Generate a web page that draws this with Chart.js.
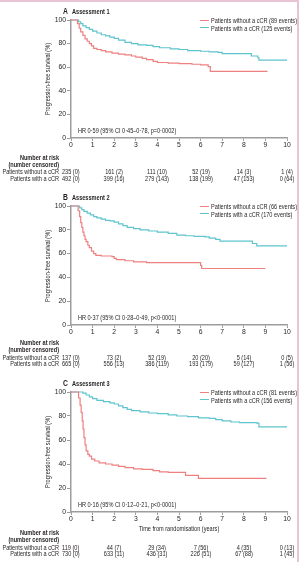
<!DOCTYPE html>
<html>
<head>
<meta charset="utf-8">
<script src="https://cdn.jsdelivr.net/npm/chart.js@4.4.1/dist/chart.umd.min.js"></script>
<style>
  html, body { margin: 0; padding: 0; background: #fff; }
  body { width: 304px; height: 562px; position: relative; overflow: hidden; }
  #frame { position: absolute; left: 0; top: 0; width: 299px; height: 562px;
           border-top: 2px solid #e8c3d3; border-right: 2px solid #e8c3d3; box-sizing: border-box; }
  .t { position: absolute; white-space: nowrap; color: #231f20; line-height: 1;
       font-family: 'Liberation Sans Narrow', 'Liberation Sans', Arial, sans-serif; font-size: 7px; }
  .b { font-weight: bold; }
  canvas { position: absolute; left: 0; }
</style>
</head>
<body>
<div id="frame"></div>
<script>
// years shown in the number-at-risk tables
const riskYears = [0, 2, 4, 6, 8, 10];

// Assessment 1
const aNoTime = [0, 0.3, 0.38, 0.45, 0.55, 0.65, 0.75, 0.85, 0.95, 1.05, 1.2, 1.4, 1.6, 1.9, 2.2, 2.5, 2.8, 3.0, 3.3, 3.5, 3.8, 4.0, 4.5, 5.0, 5.6, 6.0, 6.35, 6.45, 9.1];
const aNoSurv = [100, 97, 93, 90, 87, 84, 82, 80, 78, 76, 75, 74, 73, 72, 71, 70.5, 69.5, 68.5, 67.5, 66.5, 65, 64, 63.5, 63, 62.5, 62, 60.5, 56.5, 56.5];
const aCrTime = [0, 0.35, 0.45, 0.55, 0.7, 0.85, 1.0, 1.2, 1.4, 1.6, 1.8, 2.0, 2.2, 2.5, 2.8, 3.1, 3.5, 3.8, 4.1, 4.6, 5.0, 5.4, 6.0, 6.4, 6.8, 7.0, 8.2, 8.35, 8.65, 8.7, 10];
const aCrSurv = [100, 98.5, 97, 95, 93.5, 92, 90.5, 89, 87.5, 86.5, 85.5, 84.5, 83, 81, 80, 79, 78.5, 77.5, 76.5, 75.5, 75, 74, 73.5, 73, 72.5, 71.5, 71.5, 69.5, 68, 66, 66];
const aNoRisk = [235, 161, 111, 52, 14, 1];
const aNoCens = [0, 2, 10, 19, 3, 4];
const aCrRisk = [492, 399, 279, 138, 47, 0];
const aCrCens = [0, 16, 143, 199, 153, 64];

// Assessment 2
const bNoTime = [0, 0.33, 0.4, 0.45, 0.5, 0.55, 0.6, 0.65, 0.7, 0.78, 0.85, 0.95, 1.05, 1.15, 1.4, 1.9, 2.0, 2.1, 2.5, 2.9, 3.5, 6.0, 6.05, 9.0];
const bNoSurv = [100, 96, 91, 86, 82, 78, 75, 72, 70, 67, 65, 62, 60, 58.5, 58, 57.5, 56, 55, 54, 53, 52.5, 50, 47.5, 47.5];
const bCrTime = [0, 0.4, 0.5, 0.6, 0.75, 0.9, 1.05, 1.2, 1.4, 1.6, 1.8, 2.0, 2.2, 2.4, 2.6, 2.9, 3.2, 3.6, 4.0, 4.5, 4.9, 5.3, 5.7, 6.2, 6.4, 6.7, 6.9, 8.3, 8.4, 8.6, 10];
const bCrSurv = [100, 98.5, 97, 95.5, 94, 92.5, 91, 90, 89, 88, 87.5, 86.5, 85, 83.5, 82, 81, 80, 79, 78, 77, 75.5, 75, 74.5, 74, 73, 72, 70.5, 70.5, 68.5, 66.5, 66.5];
const bNoRisk = [137, 73, 52, 20, 5, 0];
const bNoCens = [0, 2, 19, 20, 14, 5];
const bCrRisk = [665, 556, 386, 193, 59, 1];
const bCrCens = [0, 13, 119, 179, 127, 56];

// Assessment 3
const cNoTime = [0, 0.35, 0.42, 0.47, 0.52, 0.56, 0.6, 0.65, 0.7, 0.78, 0.85, 0.95, 1.1, 1.3, 1.6, 1.9, 2.2, 2.5, 2.9, 3.3, 3.8, 4.1, 4.5, 5.3, 5.9, 9.05];
const cNoSurv = [100, 95, 89, 83, 76, 69, 62, 56, 51, 48, 46.5, 44, 42.5, 41, 40, 39, 38, 37, 36, 35.5, 34.5, 33.5, 33, 30.5, 28, 28];
const cCrTime = [0, 0.55, 0.7, 0.85, 1.0, 1.2, 1.5, 1.8, 2.0, 2.2, 2.4, 2.6, 2.8, 3.2, 3.6, 4.0, 4.5, 4.9, 5.4, 5.9, 6.4, 6.7, 7.0, 7.4, 7.8, 8.6, 8.7, 10];
const cCrSurv = [100, 99, 97.5, 96, 94.5, 93, 92, 91, 90, 88.5, 87, 85.5, 84.5, 83.5, 82.5, 82, 81, 80, 79.5, 78.5, 78, 77, 76, 75, 74.5, 74, 71, 71];
const cNoRisk = [119, 44, 29, 7, 4, 0];
const cNoCens = [0, 7, 34, 56, 35, 13];
const cCrRisk = [730, 633, 436, 226, 67, 1];
const cCrCens = [0, 11, 31, 51, 88, 45];

const yTicks = [0, 20, 40, 60, 80, 100];
const xTicks = [0, 1, 2, 3, 4, 5, 6, 7, 8, 9, 10];

const RED = '#ee8080';
const TEAL = '#5ec4cd';
const AXIS = '#9d9d9d';
const INK = '#231f20';
const FONT = "'Liberation Sans Narrow', 'Liberation Sans', Arial, sans-serif";

Chart.defaults.font.family = FONT;
Chart.defaults.color = INK;

const panels = [
  { letter: 'A', name: 'Assessment 1', top: 20, bottom: 138, tickPad: 0.5,
    noT: aNoTime, noS: aNoSurv, crT: aCrTime, crS: aCrSurv,
    noR: aNoRisk, noC: aNoCens, crR: aCrRisk, crC: aCrCens,
    noLabel: 'Patients without a cCR (89 events)', crLabel: 'Patients with a cCR (125 events)',
    hr: 'HR 0·59 (95% CI 0·45–0·78, p=0·0002)', rows: [157, 164, 171, 177.5], xTitle: false },
  { letter: 'B', name: 'Assessment 2', top: 206, bottom: 325, tickPad: 0.5,
    noT: bNoTime, noS: bNoSurv, crT: bCrTime, crS: bCrSurv,
    noR: bNoRisk, noC: bNoCens, crR: bCrRisk, crC: bCrCens,
    noLabel: 'Patients without a cCR (66 events)', crLabel: 'Patients with a cCR (170 events)',
    hr: 'HR 0·37 (95% CI 0·28–0·49, p<0·0001)', rows: [342, 349, 357, 363], xTitle: false },
  { letter: 'C', name: 'Assessment 3', top: 392, bottom: 512, tickPad: 0,
    noT: cNoTime, noS: cNoSurv, crT: cCrTime, crS: cCrSurv,
    noR: cNoRisk, noC: cNoCens, crR: cCrRisk, crC: cCrCens,
    noLabel: 'Patients without a cCR (81 events)', crLabel: 'Patients with a cCR (156 events)',
    hr: 'HR 0·16 (95% CI 0·12–0·21, p<0·0001)', rows: [532, 539, 547, 553], xTitle: true }
];

// the source uses a condensed face; squeeze the installed one to the same width
function measure(txt) {
  const s = document.createElement('span');
  s.className = 't';
  s.textContent = txt;
  document.body.appendChild(s);
  const w = s.getBoundingClientRect().width;
  s.remove();
  return w;
}
const squeeze = Math.min(1, 86 / measure('Patients without a cCR (89 events)'));

// absolutely placed text; align: 'left' | 'right' | 'center'
function addText(txt, x, y, align, cls, size, rot) {
  const d = document.createElement('div');
  d.className = 't' + (cls ? ' ' + cls : '');
  d.textContent = txt;
  d.style.left = x + 'px';
  d.style.top = y + 'px';
  if (size) d.style.fontSize = size + 'px';
  const tx = align === 'right' ? '-100%' : align === 'center' ? '-50%' : '0';
  d.style.transformOrigin = (align || 'left') + ' center';
  d.style.transform = 'translate(' + tx + ', -50%)' + (rot ? ' rotate(-90deg)' : '') + ' scaleX(' + squeeze + ')';
  document.body.appendChild(d);
  return d;
}

function addLine(x, y, w, color) {
  const d = document.createElement('div');
  d.style.cssText = 'position:absolute;left:' + x + 'px;top:' + (y - 0.6) + 'px;width:' + w + 'px;height:1.2px;background:' + color;
  document.body.appendChild(d);
}

function points(t, s) {
  return t.map((v, i) => ({ x: v, y: s[i] }));
}

panels.forEach(p => {
  const xh = 12;
  const cv = document.createElement('canvas');
  const h = (p.bottom - p.top) + 20 + xh;
  cv.width = 300; cv.height = h;
  cv.style.width = '300px'; cv.style.height = h + 'px';
  cv.style.top = (p.top - 20) + 'px';
  document.body.appendChild(cv);

  const chart = new Chart(cv, {
    type: 'line',
    data: {
      datasets: [
        { label: p.noLabel, data: points(p.noT, p.noS), borderColor: RED, borderWidth: 1.2,
          pointRadius: 0, stepped: 'before', fill: false, clip: 4 },
        { label: p.crLabel, data: points(p.crT, p.crS), borderColor: TEAL, borderWidth: 1.2,
          pointRadius: 0, stepped: 'before', fill: false, clip: 4 }
      ]
    },
    options: {
      responsive: false,
      animation: false,
      layout: { padding: { left: 40, right: 13, top: 20, bottom: 0 } },
      plugins: { legend: { display: false }, tooltip: { enabled: false } },
      scales: {
        x: {
          type: 'linear', min: 0, max: 10,
          afterBuildTicks: s => { s.ticks = xTicks.map(v => ({ value: v })); },
          afterFit: s => { s.height = xh; },
          ticks: { font: { size: 6.8 }, color: INK, padding: p.tickPad, maxRotation: 0 },
          grid: { drawOnChartArea: false, drawTicks: true, tickLength: 3, color: AXIS },
          border: { color: AXIS, width: 1.5 }
        },
        y: {
          min: 0, max: 100,
          afterBuildTicks: s => { s.ticks = yTicks.map(v => ({ value: v })); },
          afterFit: s => { s.width = 31; },
          ticks: { font: { size: 6.8 }, color: INK, padding: 1 },
          grid: { drawOnChartArea: false, drawTicks: true, tickLength: 4, color: AXIS },
          border: { color: AXIS, width: 1.5 }
        }
      }
    }
  });

  const xs = chart.scales.x;
  const ys = chart.scales.y;

  // axis titles
  addText('Progression-free survival (%)', 47, cv.offsetTop + (ys.top + ys.bottom) / 2, 'center', '', null, true);
  if (p.xTitle) addText('Time from randomisation (years)', (xs.left + xs.right) / 2, p.bottom + 16, 'center');

  // titles, legend and HR text
  addText(p.letter, 62.5, p.top - 9.3, 'left', 'b', 8.5);
  addText(p.name, 71.5, p.top - 9.3, 'left', 'b');
  addLine(200, p.top + 0.3, 9, RED);
  addLine(200, p.top + 7.8, 9, TEAL);
  addText(p.noLabel, 211, p.top + 0.3, 'left');
  addText(p.crLabel, 211, p.top + 7.8, 'left');
  addText(p.hr, 78, p.bottom - 8, 'left');

  // number at risk table, columns placed with the chart's x scale
  addText('Number at risk', 59, p.rows[0], 'right', 'b');
  addText('(number censored)', 59, p.rows[1], 'right', 'b');
  addText('Patients without a cCR', 59, p.rows[2], 'right');
  addText('Patients with a cCR', 59, p.rows[3], 'right');
  riskYears.forEach((yr, i) => {
    const px = xs.getPixelForValue(yr);
    addText(p.noR[i] + ' (' + p.noC[i] + ')', i === 0 ? 62 : px, p.rows[2], i === 0 ? 'left' : 'center');
    addText(p.crR[i] + ' (' + p.crC[i] + ')', i === 0 ? 62 : px, p.rows[3], i === 0 ? 'left' : 'center');
  });
});
</script>
</body>
</html>
